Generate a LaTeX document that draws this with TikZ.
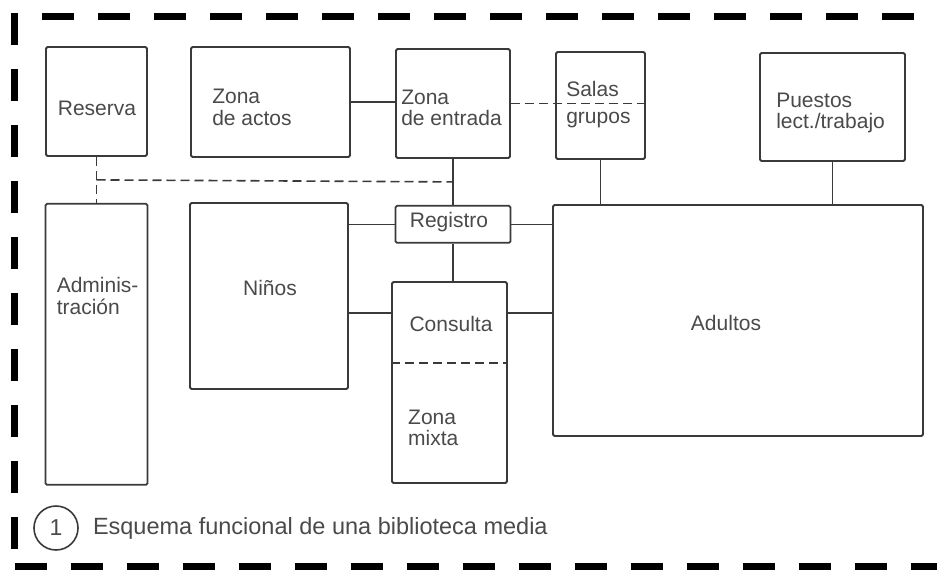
\documentclass[tikz,border=0pt]{standalone}
\usepackage{fontspec}
\setmainfont{Liberation Sans}
\usepackage{xcolor}
\usepackage{tikz}
\usetikzlibrary{calc, positioning}
\definecolor{ink}{HTML}{3A3A3A}
\definecolor{txtgray}{HTML}{4A4A4A}
\tikzset{
    zone/.style={rectangle, draw=ink, line width=1.8pt, rounded corners=1.5pt, fill=white, inner sep=0pt},
    txt/.style={text=txtgray, font=\fontsize{21}{21.5}\selectfont, align=left, inner sep=0pt},
    link/.style={draw=ink, line width=1.6pt},
    dashLink/.style={draw=ink, line width=1.6pt, dash pattern=on 9pt off 5pt},
    frame/.style={draw=black, line width=7pt, dash pattern=on 32pt off 24pt},
    num/.style={circle, draw=ink, line width=1.6pt, minimum size=44pt, inner sep=0pt, text=txtgray, font=\fontsize{23}{24}\selectfont}
}

\begin{document}
\begin{tikzpicture}[x=1pt, y=-1pt, node distance=1cm]
        \useasboundingbox (0,0) rectangle (937,570);

        % dashed frame
        \draw[frame] (42,16.5) -- (937,16.5);
        \draw[frame] (14,13) -- (14,570);
        \draw[frame] (15,566.5) -- (937,566.5);

        \node[zone, minimum width=101pt, minimum height=109pt] (Reserva) at (96.5,101.5) {};
        \node[zone, minimum width=159pt, minimum height=110pt] (Actos) at (270.5,102) {};
        \node[zone, minimum width=114pt, minimum height=109pt] (Entrada) at (453,103.5) {};
        \node[zone, minimum width=89pt, minimum height=107pt] (Salas) at (600.5,105.5) {};
        \node[zone, minimum width=145pt, minimum height=108pt] (Puestos) at (832.5,107) {};

        \node[zone, minimum width=102pt, minimum height=281pt, below=46pt of Reserva] (Admin) {};
        \node[zone, minimum width=158pt, minimum height=186pt] (Ninos) at (269,296) {};
        \node[zone, minimum width=115pt, minimum height=37pt, below=46pt of Entrada] (Registro) {};
        \node[zone, minimum width=115pt, minimum height=201pt] (Consulta) at (449.5,382.5) {};
        \node[zone, minimum width=370pt, minimum height=231pt] (Adultos) at (738,320.5) {};

        \node[txt] (ReservaTxt) at (97,108) {Reserva};
        \node[txt, right=22pt of Actos.west, yshift=-5.5pt] (ActosTxt) {Zona\\de actos};
        \node[txt, right=6pt of Entrada.west, yshift=-4.5pt] (EntradaTxt) {Zona\\de entrada};
        \node[txt, right=11pt of Salas.west, yshift=1pt] (SalasTxt) {Salas\\[5pt]grupos};
        \node[txt, right=17pt of Puestos.west, yshift=-6pt] (PuestosTxt) {Puestos\\lect./trabajo};
        \node[txt, right=12pt of Admin.west, yshift=48.5pt] (AdminTxt) {Adminis-\\tración};
        \node[txt] (NinosTxt) at (270,288) {Niños};
        \node[txt] (RegistroTxt) at (449,222) {Registro};
        \node[txt] (ConsultaTxt) at (451,324) {Consulta};
        \node[txt, anchor=west] (MixtaTxt) at (408,428) {Zona\\mixta};
        \node[txt] (AdultosTxt) at (726,323) {Adultos};

        \coordinate (ConsultaLvl) at ([yshift=-32pt]Consulta.north);
        \coordinate (MixtaLvl) at ([yshift=-82pt]Consulta.north);

        \draw[link] (Actos.east) -- (Actos.east -| Entrada.west);
        \draw[link] (Entrada) -- (Registro);
        \draw[link] (Registro.south) -- (Registro.south |- Consulta.north);
        \draw[link] (Salas.south) -- (Salas.south |- Adultos.north);
        \draw[link] (Puestos.south) -- (Puestos.south |- Adultos.north);
        \draw[link] (Registro.west -| Ninos.east) -- (Registro.west);
        \draw[link] (Registro.east) -- (Registro.east -| Adultos.west);
        \draw[link] (ConsultaLvl -| Ninos.east) -- (ConsultaLvl -| Consulta.west);
        \draw[link] (ConsultaLvl -| Consulta.east) -- (ConsultaLvl -| Adultos.west);

        % split lines and service links
        \draw[dashLink] (MixtaLvl -| Consulta.west) -- (MixtaLvl -| Consulta.east);
        \draw[dashLink] (Entrada.east) -- (Entrada.east -| Salas.east);
        \draw[dashLink] (Reserva.south) -- (Admin.north);
        \draw[dashLink] ($(Reserva.south)!0.5!(Admin.north)$) -- ($(Entrada.south)!0.5!(Registro.north)$);

        \node[num] (Num) at (56,528) {1};
        \node[txt, font=\fontsize{23.5}{24}\selectfont, right=14pt of Num] (Caption) {Esquema funcional de una biblioteca media};
    \end{tikzpicture}
\end{document}
